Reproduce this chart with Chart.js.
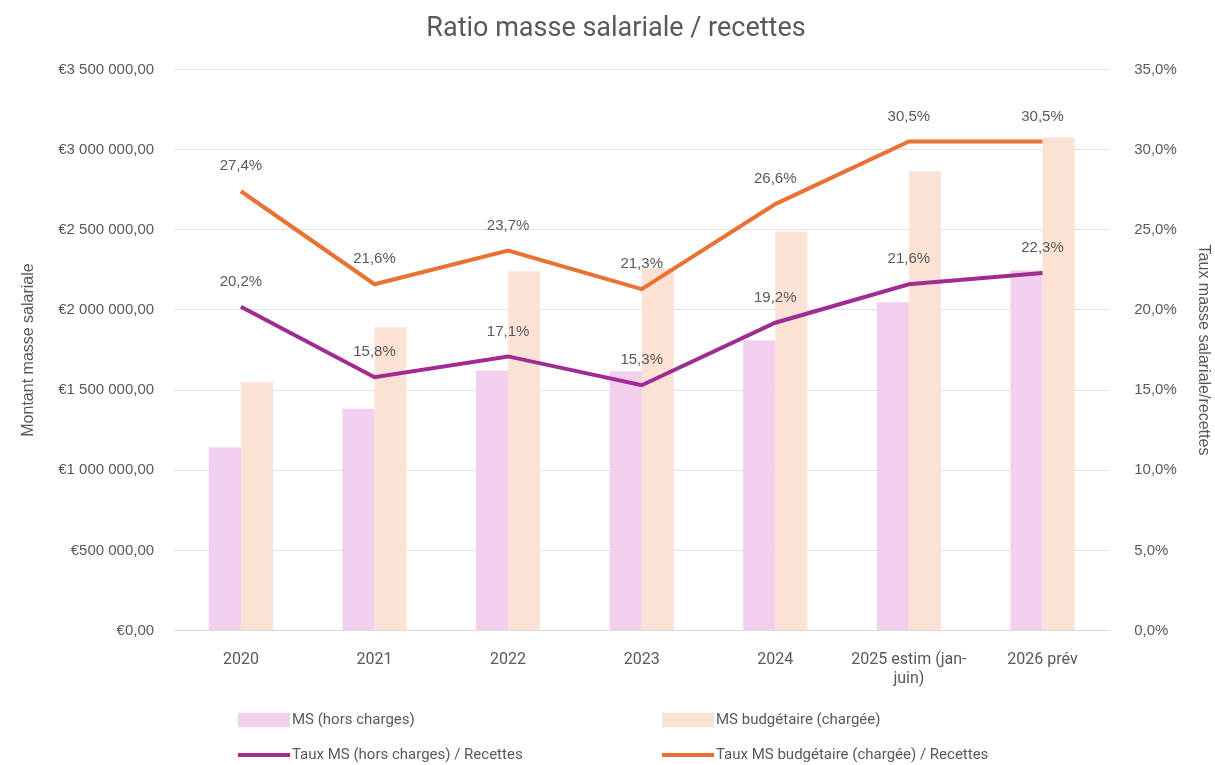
<!DOCTYPE html>
<html>
<head>
<meta charset="utf-8">
<script src="https://cdn.jsdelivr.net/npm/chart.js@4"></script>
<style>
  body { margin: 0; background: #fff; }
  #wrap { position: relative; width: 1215px; height: 765px; }
  .leg { position: absolute; font-family: 'Liberation Sans Narrow', 'Roboto', sans-serif; font-size: 15px; color: #595959; white-space: nowrap; }
  .sw { position: absolute; }
</style>
</head>
<body>
<div id="wrap">
  <canvas id="chart"></canvas>
  <div id="legend"></div>
</div>
<script>
const categories = ["2020", "2021", "2022", "2023", "2024", ["2025 estim (jan-", "juin)"], "2026 prév"];
const msHorsCharges = [1143000, 1383000, 1622000, 1618000, 1809000, 2048000, 2246000];
const msBudgetaire = [1549000, 1892000, 2241000, 2260000, 2489000, 2865000, 3077000];
const tauxHorsCharges = [20.2, 15.8, 17.1, 15.3, 19.2, 21.6, 22.3];
const tauxBudgetaire = [27.4, 21.6, 23.7, 21.3, 26.6, 30.5, 30.5];
const seriesNames = ["MS (hors charges)", "MS budgétaire (chargée)", "Taux MS (hors charges) / Recettes", "Taux MS budgétaire (chargée) / Recettes"];

const grey = "#595959";
const colors = ["#F2CEEF", "#FBE2D5", "#A02B93", "#E97132"];
const narrow = "'Liberation Sans Narrow', 'Roboto', sans-serif";
const plain = "'Liberation Sans', Arial, sans-serif";

const pct = v => v.toFixed(1).replace(".", ",") + "%";
const euro = v => "€" + String(v).replace(/\B(?=(\d{3})+(?!\d))/g, " ") + ",00";

// étiquettes au-dessus des points des courbes
const pointLabels = {
    id: "pointLabels",
    afterDatasetsDraw(chart) {
        const ctx = chart.ctx;
        ctx.save();
        ctx.font = "15px " + plain;
        ctx.fillStyle = grey;
        ctx.textAlign = "center";
        ctx.textBaseline = "middle";
        chart.data.datasets.forEach((ds, i) => {
            if (ds.type !== "line") return;
            chart.getDatasetMeta(i).data.forEach((pt, j) => {
                ctx.fillText(pct(ds.data[j]), pt.x, pt.y - 25);
            });
        });
        ctx.restore();
    }
};

new Chart(document.getElementById("chart"), {
    data: {
        labels: categories,
        datasets: [
            { type: "line", label: seriesNames[2], data: tauxHorsCharges, yAxisID: "y1", borderColor: colors[2], borderWidth: 4, pointRadius: 0, order: 1 },
            { type: "line", label: seriesNames[3], data: tauxBudgetaire, yAxisID: "y1", borderColor: colors[3], borderWidth: 4, pointRadius: 0, order: 1 },
            { type: "bar", label: seriesNames[0], data: msHorsCharges, yAxisID: "y", backgroundColor: colors[0], order: 2 },
            { type: "bar", label: seriesNames[1], data: msBudgetaire, yAxisID: "y", backgroundColor: colors[1], order: 2 }
        ]
    },
    options: {
        responsive: true,
        maintainAspectRatio: false,
        animation: false,
        datasets: { bar: { barPercentage: 1, categoryPercentage: 0.48 } },
        layout: { padding: { left: 19, right: 2, top: 0, bottom: 64 } },
        plugins: {
            legend: { display: false },
            tooltip: { enabled: false },
            title: {
                display: true,
                text: "Ratio masse salariale / recettes",
                color: grey,
                font: { family: narrow, size: 27, weight: "normal" },
                padding: { top: 13, bottom: 24 }
            }
        },
        scales: {
            x: {
                grid: { display: false },
                border: { display: true, color: "#D9D9D9" },
                ticks: { color: grey, font: { family: narrow, size: 16 }, padding: 12, maxRotation: 0, autoSkip: false }
            },
            y: {
                position: "left",
                min: 0, max: 3500000,
                grid: { color: "#E3E3E3", drawTicks: false },
                border: { display: false },
                ticks: { stepSize: 500000, color: grey, font: { family: plain, size: 15 }, padding: 20, callback: euro },
                title: { display: true, text: "Montant masse salariale", color: grey, font: { family: plain, size: 16 }, padding: 0 }
            },
            y1: {
                position: "right",
                min: 0, max: 35,
                grid: { display: false },
                border: { display: false },
                ticks: { stepSize: 5, color: grey, font: { family: plain, size: 15 }, padding: 17, callback: pct },
                title: { display: true, text: "Taux masse salariale/recettes", color: grey, font: { family: plain, size: 16 }, padding: 0 }
            }
        }
    },
    plugins: [pointLabels]
});

// légende en deux colonnes sous le graphique
const legend = document.getElementById("legend");
const legendPos = [[238, 720], [662, 720], [238, 755], [662, 755]];
seriesNames.forEach((name, i) => {
    const [x, y] = legendPos[i];
    const sw = document.createElement("div");
    sw.className = "sw";
    sw.style.left = x + "px";
    sw.style.width = "52px";
    sw.style.background = colors[i];
    if (i < 2) { sw.style.top = (y - 7) + "px"; sw.style.height = "14px"; }
    else { sw.style.top = (y - 2) + "px"; sw.style.height = "4px"; }
    legend.appendChild(sw);
    const t = document.createElement("div");
    t.className = "leg";
    t.style.left = (x + 54) + "px";
    t.style.top = (y - 10) + "px";
    t.textContent = name;
    legend.appendChild(t);
});
</script>
</body>
</html>
